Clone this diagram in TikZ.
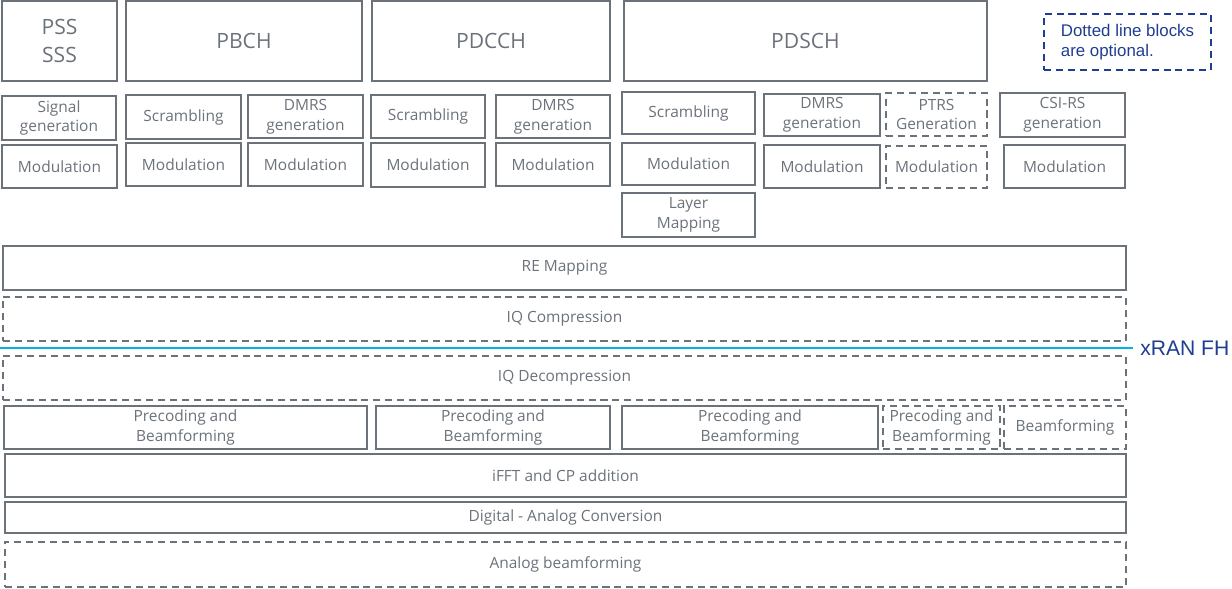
\documentclass[tikz,border=0pt]{standalone}
\usepackage{fontspec}
\setmainfont{Open Sans}
\newfontfamily\arialfont{Liberation Sans}
\definecolor{boxgray}{RGB}{107,114,122}
\definecolor{fhblue}{RGB}{31,62,145}
\definecolor{fhcyan}{RGB}{0,180,230}

\begin{document}
\begin{tikzpicture}[x=0.025cm, y=-0.025cm,
        blk/.style={draw=boxgray, line width=1.3pt, text=boxgray, inner sep=0pt, align=center, font=\fontsize{11}{14}\selectfont},
        optblk/.style={blk, dash pattern=on 5pt off 3.5pt},
        chan/.style={blk, font=\fontsize{15}{20}\selectfont}]
        \useasboundingbox (0,0) rectangle (1232,588);

        % Physical channels
        \node[chan, minimum width=2.875cm, minimum height=2cm] (pss) at (59.5,41) {PSS\\SSS};
        \node[chan, minimum width=5.9cm, minimum height=2cm] (pbch) at (244,41) {PBCH};
        \node[chan, minimum width=5.95cm, minimum height=2cm] (pdcch) at (491,41) {PDCCH};
        \node[chan, minimum width=9.075cm, minimum height=2cm] (pdsch) at (805.5,41) {PDSCH};

        % Legend
        \node[draw=fhblue, line width=1.3pt, dash pattern=on 5pt off 3.5pt, text=fhblue, align=left,
              font=\arialfont\fontsize{12}{14}\selectfont, inner sep=0pt,
              minimum width=4.175cm, minimum height=1.4cm] (legend) at (1127.5,42) {Dotted line blocks\\are optional.};

        % Generation / scrambling
        \node[blk, minimum width=2.85cm, minimum height=1.1cm] (siggen) at (59,118) {Signal\\generation};
        \node[blk, minimum width=2.875cm, minimum height=1.1cm] (pbchscr) at (183.5,117) {Scrambling};
        \node[blk, minimum width=2.875cm, minimum height=1.075cm] (pbchdmrs) at (305.5,116.5) {DMRS\\generation};
        \node[blk, minimum width=2.85cm, minimum height=1.075cm] (pdcchscr) at (428,116.5) {Scrambling};
        \node[blk, minimum width=2.85cm, minimum height=1.075cm] (pdcchdmrs) at (553,116.5) {DMRS\\generation};
        \node[blk, minimum width=3.325cm, minimum height=1.05cm] (pdschscr) at (688.5,113) {Scrambling};
        \node[blk, minimum width=2.9cm, minimum height=1.05cm] (pdschdmrs) at (822,115) {DMRS\\generation};
        \node[optblk, minimum width=2.525cm, minimum height=1.075cm] (ptrs) at (936.5,114.5) {PTRS\\Generation};
        \node[blk, minimum width=3.125cm, minimum height=1.1cm] (csirs) at (1062.5,115) {CSI-RS\\generation};

        % Modulation
        \node[blk, minimum width=2.875cm, minimum height=1.075cm] (pssmod) at (59.5,166.5) {Modulation};
        \node[blk, minimum width=2.875cm, minimum height=1.075cm] (pbchmod) at (183.5,164.5) {Modulation};
        \node[blk, minimum width=2.875cm, minimum height=1.075cm] (pbchdmrsmod) at (305.5,164.5) {Modulation};
        \node[blk, minimum width=2.85cm, minimum height=1.1cm] (pdcchmod) at (428,165) {Modulation};
        \node[blk, minimum width=2.85cm, minimum height=1.075cm] (pdcchdmrsmod) at (553,164.5) {Modulation};
        \node[blk, minimum width=3.325cm, minimum height=1.05cm] (pdschmod) at (688.5,164) {Modulation};
        \node[blk, minimum width=2.9cm, minimum height=1.075cm] (pdschdmrsmod) at (822,166.5) {Modulation};
        \node[optblk, minimum width=2.525cm, minimum height=1.05cm] (ptrsmod) at (936.5,167) {Modulation};
        \node[blk, minimum width=3.025cm, minimum height=1.075cm] (csirsmod) at (1064.5,166.5) {Modulation};

        \node[blk, minimum width=3.325cm, minimum height=1.1cm] (layer) at (688.5,215) {Layer\\Mapping};

        % Common chain
        \node[blk, minimum width=28.075cm, minimum height=1.1cm] (remap) at (564.5,268) {RE Mapping};
        \node[optblk, minimum width=28.075cm, minimum height=1.1cm] (iqcomp) at (564.5,319) {IQ Compression};

        % Fronthaul split
        \coordinate (fhstart) at (0,348);
        \node[anchor=west, inner xsep=0.175cm, inner ysep=0pt, text=fhblue, font=\arialfont\fontsize{15}{18}\selectfont] (fh) at (1133,348) {xRAN FH};
        \draw[fhcyan, line width=2pt] (fhstart) -- (fh.west);

        \node[optblk, minimum width=28.075cm, minimum height=1.1cm] (iqdecomp) at (564.5,378) {IQ Decompression};

        % Precoding
        \node[blk, minimum width=9.075cm, minimum height=1.075cm] (prec1) at (185.5,427.5) {Precoding and\\Beamforming};
        \node[blk, minimum width=5.85cm, minimum height=1.075cm] (prec2) at (493,427.5) {Precoding and\\Beamforming};
        \node[blk, minimum width=6.4cm, minimum height=1.075cm] (prec3) at (750,427.5) {Precoding and\\Beamforming};
        \node[optblk, minimum width=2.925cm, minimum height=1.075cm] (prec4) at (941.5,427.5) {Precoding and\\Beamforming};
        \node[optblk, minimum width=3.05cm, minimum height=1.075cm] (bf) at (1065,427.5) {Beamforming};

        % Radio
        \node[blk, minimum width=28.025cm, minimum height=1.075cm] (ifft) at (565.5,475.5) {iFFT and CP addition};
        \node[blk, minimum width=28.025cm, minimum height=0.775cm] (dac) at (565.5,517.5) {Digital - Analog Conversion};
        \node[optblk, minimum width=28.025cm, minimum height=1.125cm] (abf) at (565.5,564.5) {Analog beamforming};
\end{tikzpicture}
\end{document}
